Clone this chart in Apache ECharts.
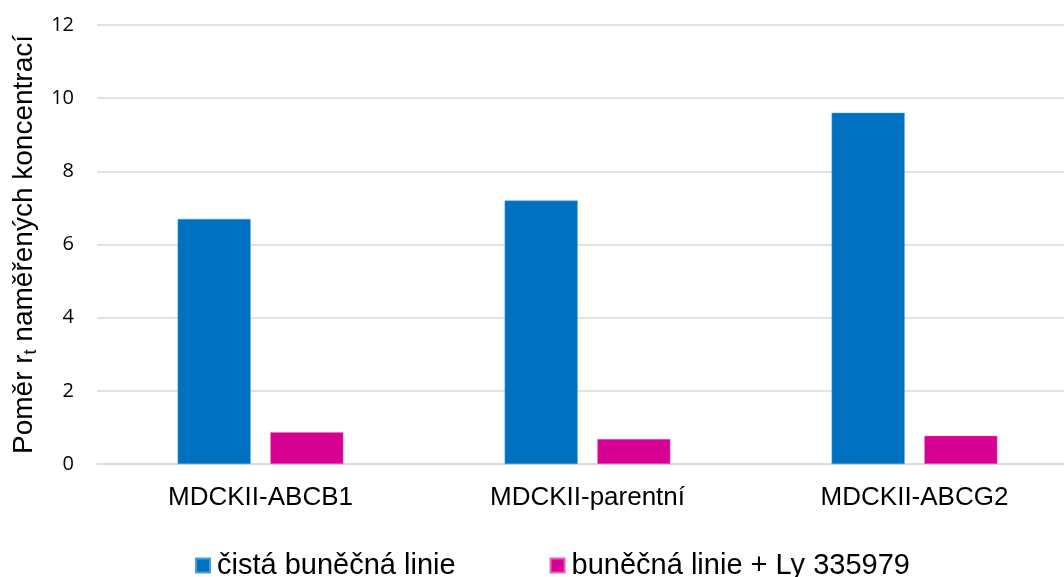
<!DOCTYPE html>
<html>
<head>
<meta charset="utf-8">
<script src="https://cdn.jsdelivr.net/npm/echarts@6/dist/echarts.min.js"></script>
<style>
  html, body { margin: 0; padding: 0; background: #fff; }
  #chart { width: 1064px; height: 577px; }
</style>
</head>
<body>
<div id="chart"></div>
<script>
// Cell lines on the x axis
const categories = ['MDCKII-ABCB1', 'MDCKII-parentní', 'MDCKII-ABCG2'];
// Ratio r_t of measured concentrations
const pureLine = [6.7, 7.2, 9.6];
const withInhibitor = [0.87, 0.68, 0.77];
const seriesNames = ['čistá buněčná linie', 'buněčná linie + Ly 335979'];
const yTicks = [0, 2, 4, 6, 8, 10, 12];

const chart = echarts.init(document.getElementById('chart'), null, { renderer: 'canvas' });

chart.setOption({
  animation: false,
  backgroundColor: '#ffffff',
  grid: {
    left: 97, top: 25, width: 981, height: 439,
    containLabel: false,
    outerBoundsMode: 'none'
  },
  legend: {
    data: seriesNames,
    left: 190,
    top: 546,
    itemWidth: 14,
    itemHeight: 14,
    itemGap: 94,
    icon: 'rect',
    textStyle: { fontFamily: 'Liberation Sans, Arial', fontSize: 29, color: '#000', padding: [0, 0, 0, 2] }
  },
  xAxis: {
    type: 'category',
    data: categories,
    axisLine: { show: true, lineStyle: { color: '#d9d9d9', width: 1.5 } },
    axisTick: { show: false },
    axisLabel: { fontFamily: 'Liberation Sans, Arial', fontSize: 26, color: '#000', margin: 21 }
  },
  yAxis: {
    type: 'value',
    min: yTicks[0],
    max: yTicks[yTicks.length - 1],
    interval: 2,
    axisLine: { show: false },
    axisTick: { show: false },
    splitLine: { lineStyle: { color: '#d9d9d9', width: 1.5 } },
    axisLabel: { fontFamily: 'Open Sans, Liberation Sans', fontSize: 20, color: '#000', margin: 23 },
    name: '{n|Poměr r}{s|t}{n| naměřených koncentrací}',
    nameLocation: 'middle',
    nameGap: 53,
    nameRotate: 90,
    nameTextStyle: {
      rich: {
        n: { fontFamily: 'Liberation Sans, Arial', fontSize: 28, color: '#000' },
        s: { fontFamily: 'Liberation Sans, Arial', fontSize: 18, color: '#000', padding: [14, 0, 0, 0] }
      }
    }
  },
  series: [
    {
      name: seriesNames[0],
      type: 'bar',
      data: pureLine,
      barWidth: 73,
      barGap: '27%',
      itemStyle: { color: '#0070c0', borderColor: '#4a9de0', borderWidth: 0.5 }
    },
    {
      name: seriesNames[1],
      type: 'bar',
      data: withInhibitor,
      barWidth: 73,
      itemStyle: { color: '#d60093', borderColor: '#e860b8', borderWidth: 0.5 }
    }
  ]
});
</script>
</body>
</html>
